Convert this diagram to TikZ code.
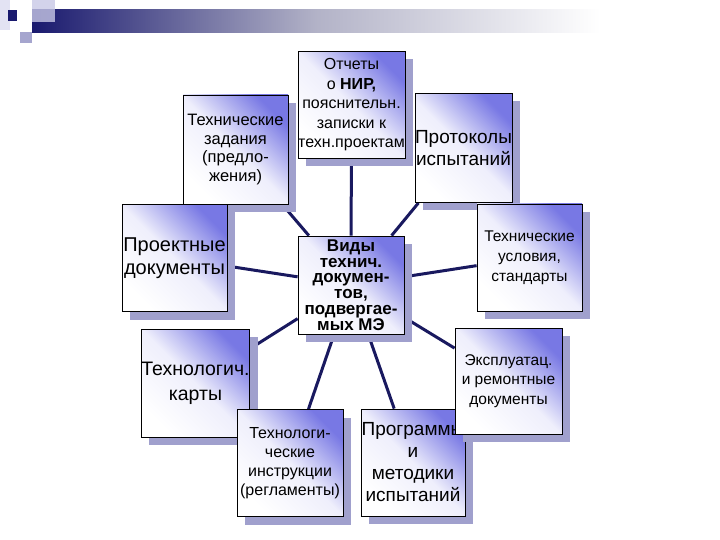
\documentclass[tikz,border=0pt]{standalone}
\usepackage{fontspec}
\setmainfont{Liberation Sans}
\usetikzlibrary{shadows,backgrounds}

\definecolor{boxblue}{RGB}{120,120,228}
\definecolor{shadowcol}{RGB}{160,160,205}
\definecolor{linkcol}{RGB}{25,25,95}
\definecolor{hdnavy}{RGB}{25,25,110}
\definecolor{hdlight}{RGB}{200,200,230}

\tikzset{
  doc/.style={draw=black, line width=0.8pt, inner sep=0pt, align=center,
    top color=boxblue, bottom color=white, middle color=white!88!boxblue, shading angle=-45,
    drop shadow={shadow xshift=8pt, shadow yshift=-8pt, fill=shadowcol, opacity=1}},
  link/.style={draw=linkcol, line width=3pt}
}

\begin{document}
\begin{tikzpicture}[x=1pt, y=-1pt]
\useasboundingbox (0,0) rectangle (720,540);

% header
\fill[hdlight!50] (0,0) rectangle (10,30);
\shade[left color=hdnavy, right color=white, middle color=hdlight!70!gray] (32,10) rectangle (600,33);
\fill[hdlight, opacity=0.8] (32,0) rectangle (55,22);
\fill[hdnavy] (8,10) rectangle (17,21);
\fill[hdlight!80!hdnavy] (20,32) rectangle (32,43);

\node[doc, minimum width=107, minimum height=107, font=\fontsize{16}{19.5}\selectfont]
  (otch) at (351.5,105) {Отчеты\\о \textbf{НИР,}\\пояснительн.\\записки к\\техн.проектам};
\node[doc, minimum width=105, minimum height=109, font=\fontsize{16.5}{18.5}\selectfont]
  (tz) at (235.5,149.5) {Технические\\задания\\(предло-\\жения)};
\node[doc, minimum width=97, minimum height=109, font=\fontsize{19}{22}\selectfont]
  (prot) at (463.5,148) {Протоколы\\испытаний};
\node[doc, minimum width=105, minimum height=107, font=\fontsize{20}{23}\selectfont]
  (proj) at (174.5,258) {Проектные\\документы};
\node[doc, minimum width=106, minimum height=98, font=\bfseries\fontsize{17}{15.8}\selectfont]
  (vid) at (351,285) {Виды\\технич.\\докумен-\\тов,\\подвергае-\\мых МЭ};
\node[doc, minimum width=105, minimum height=107, font=\fontsize{15.5}{20}\selectfont]
  (tu) at (529.5,257.5) {Технические\\условия,\\стандарты};
\node[doc, minimum width=105, minimum height=108, font=\fontsize{19.5}{25}\selectfont]
  (karty) at (195.5,383) {Технологич.\\карты};
\node[doc, minimum width=106, minimum height=107, font=\fontsize{16}{19}\selectfont]
  (instr) at (290,463) {Технологи-\\ческие\\инструкции\\(регламенты)};
\node[doc, minimum width=104, minimum height=107, font=\fontsize{19}{22}\selectfont]
  (prog) at (413,462.5) {Программы\\и\\методики\\испытаний};
\node[doc, minimum width=107, minimum height=106, font=\fontsize{15.5}{19.5}\selectfont]
  (ekspl) at (508.5,381) {Эксплуатац.\\и ремонтные\\документы};

\begin{scope}[on background layer]
\foreach \n in {otch,tz,prot,proj,tu,karty,instr,prog,ekspl}
  \draw[link] (vid) -- (\n);
\end{scope}

\end{tikzpicture}
\end{document}
